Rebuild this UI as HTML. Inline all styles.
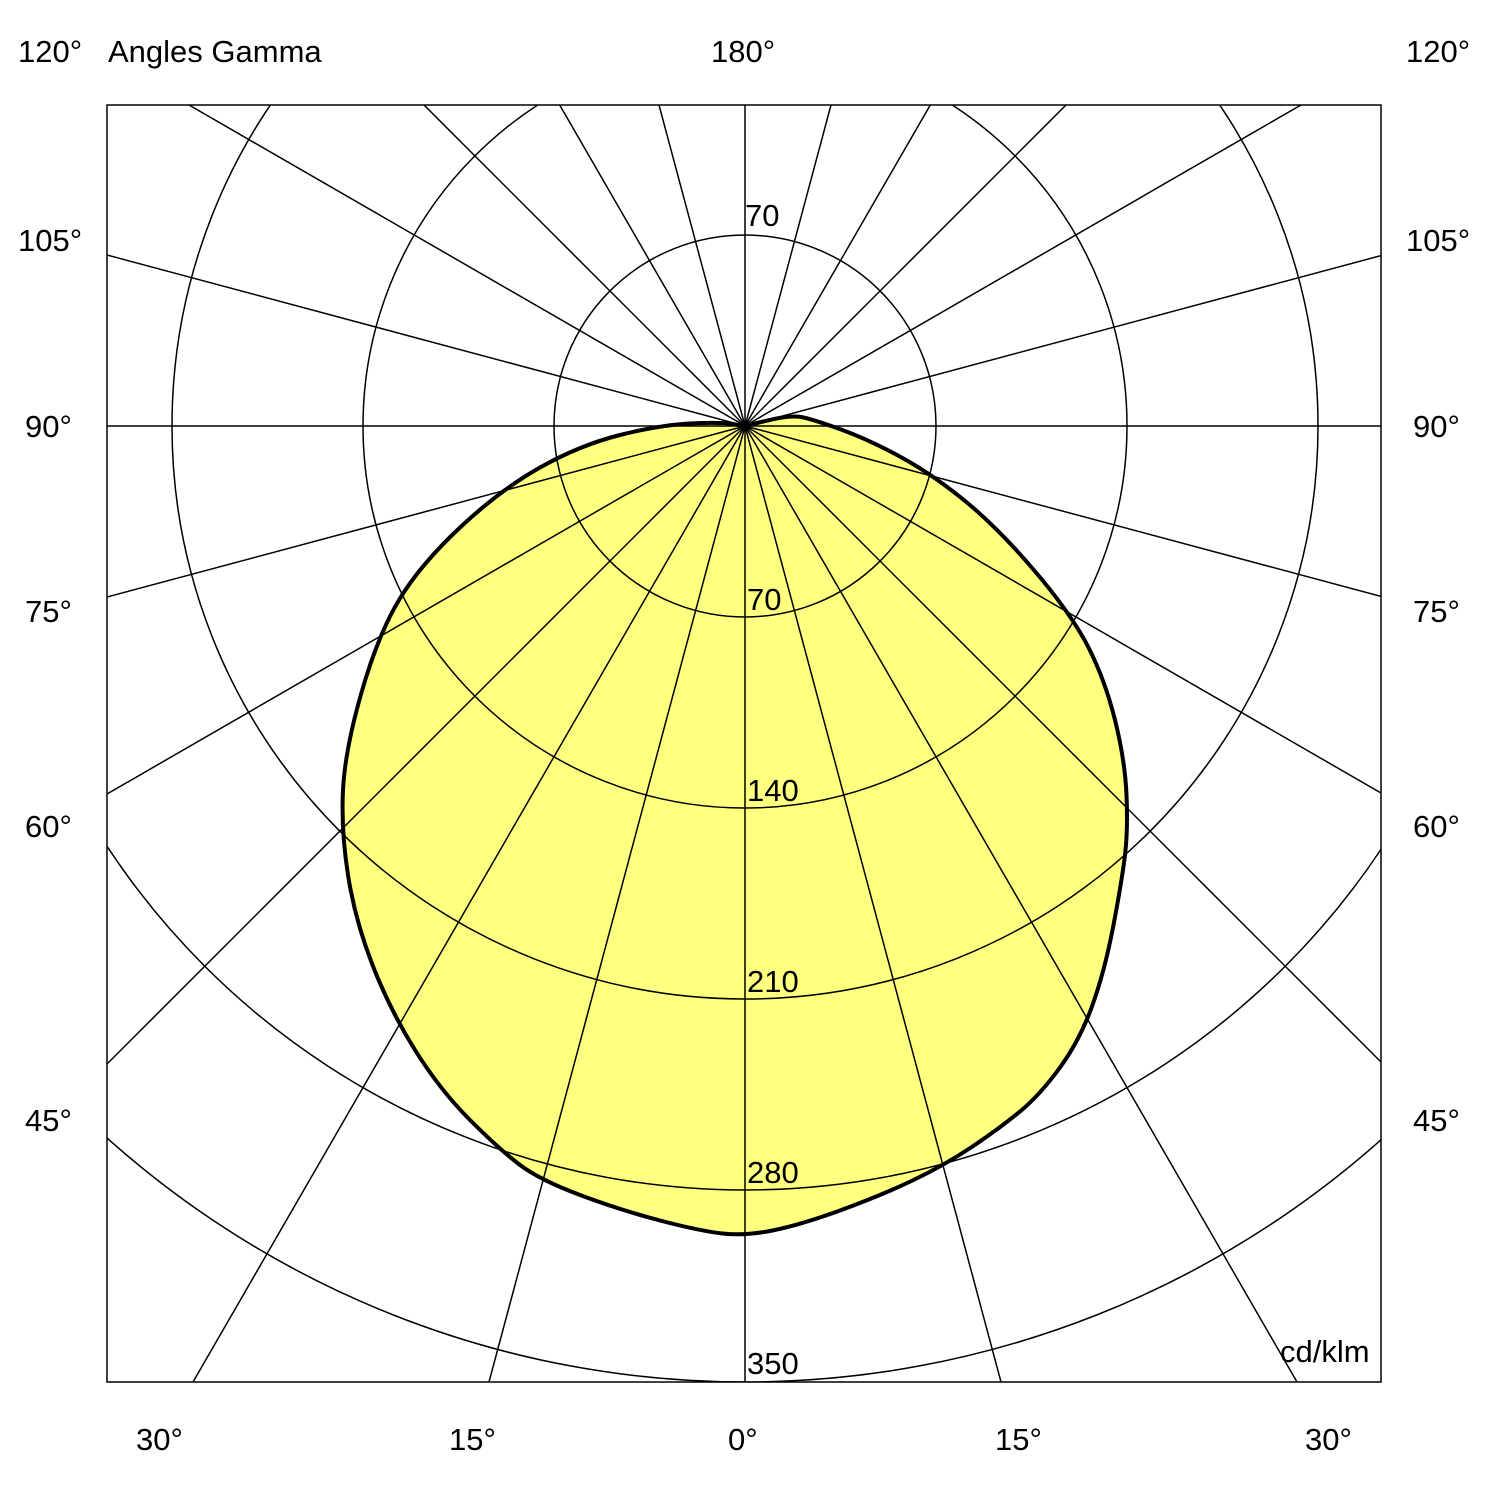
<!DOCTYPE html>
<html><head><meta charset="utf-8"><style>
html,body{margin:0;padding:0;background:#fff;width:1490px;height:1490px;overflow:hidden;}
svg{display:block;overflow:hidden;}
svg text{font-family:"Liberation Sans",Arial,sans-serif;font-size:31px;fill:#000;}
</style></head><body>
<svg width="1490" height="1490" viewBox="0 0 1490 1490" xmlns="http://www.w3.org/2000/svg">
<defs><clipPath id="c"><rect x="107" y="105" width="1274" height="1277"/></clipPath></defs>
<rect width="1490" height="1490" fill="#fff"/>
<g clip-path="url(#c)">
<path d="M745,426 L767.5,420.5 Q790,415 801,417 Q812,419 841,429.5 Q870,440 902.5,458 Q935,476 967.5,503 Q1000,530 1036,572.5 Q1072,615 1088.5,647.5 Q1105,680 1115,720 Q1125,760 1126.5,795 Q1128,830 1125,855 Q1122,880 1113.5,925 Q1105,970 1092.5,1005 Q1080,1040 1060,1067.5 Q1040,1095 1020,1111.5 Q1000,1128 972.5,1146.5 Q945,1165 912.5,1180.5 Q880,1196 840,1210.5 Q800,1225 772.5,1230.5 Q745,1236 722.5,1233.5 Q700,1231 660,1220.5 Q620,1210 580,1195 Q540,1180 520,1165 Q500,1150 470,1120 Q440,1090 415,1050 Q390,1010 372.5,965 Q355,920 348,875 Q341,830 343,790 Q345,750 361.5,692.5 Q378,635 399,600 Q420,565 460,527.5 Q500,490 540,467.5 Q580,445 620,435 Q660,425 690,423.5 Q720,422 732.5,424 L745,426 Z" fill="#ffff80" stroke="none"/>
<g fill="none" stroke="#000" stroke-width="1.5">
<circle cx="745" cy="426" r="191"/>
<circle cx="745" cy="426" r="382"/>
<circle cx="745" cy="426" r="573"/>
<circle cx="745" cy="426" r="764"/>
<circle cx="745" cy="426" r="956"/>
</g>
<g stroke="#000" stroke-width="1.5">
<line x1="745" y1="105" x2="745" y2="1382"/>
<line x1="659" y1="105" x2="1001" y2="1382"/>
<line x1="559.7" y1="105" x2="1297" y2="1382"/>
<line x1="424" y1="105" x2="1381" y2="1062"/>
<line x1="189" y1="105" x2="1381" y2="793"/>
<line x1="107" y1="255" x2="1381" y2="596.4"/>
<line x1="107" y1="426" x2="1381" y2="426"/>
<line x1="1381" y1="255.6" x2="107" y2="597"/>
<line x1="1301" y1="105" x2="107" y2="794"/>
<line x1="1066" y1="105" x2="107" y2="1064"/>
<line x1="930.3" y1="105" x2="193" y2="1382"/>
<line x1="831" y1="105" x2="489" y2="1382"/>
</g>
<path d="M745,426 L767.5,420.5 Q790,415 801,417 Q812,419 841,429.5 Q870,440 902.5,458 Q935,476 967.5,503 Q1000,530 1036,572.5 Q1072,615 1088.5,647.5 Q1105,680 1115,720 Q1125,760 1126.5,795 Q1128,830 1125,855 Q1122,880 1113.5,925 Q1105,970 1092.5,1005 Q1080,1040 1060,1067.5 Q1040,1095 1020,1111.5 Q1000,1128 972.5,1146.5 Q945,1165 912.5,1180.5 Q880,1196 840,1210.5 Q800,1225 772.5,1230.5 Q745,1236 722.5,1233.5 Q700,1231 660,1220.5 Q620,1210 580,1195 Q540,1180 520,1165 Q500,1150 470,1120 Q440,1090 415,1050 Q390,1010 372.5,965 Q355,920 348,875 Q341,830 343,790 Q345,750 361.5,692.5 Q378,635 399,600 Q420,565 460,527.5 Q500,490 540,467.5 Q580,445 620,435 Q660,425 690,423.5 Q720,422 732.5,424 L745,426 Z" fill="none" stroke="#000" stroke-width="4" stroke-linejoin="round"/>
</g>
<rect x="107" y="105" width="1274" height="1277" fill="none" stroke="#000" stroke-width="1.5"/>
<text x="745" y="226">70</text>
<text x="747" y="610">70</text>
<text x="747" y="801">140</text>
<text x="747" y="992">210</text>
<text x="747" y="1183">280</text>
<text x="747" y="1374">350</text>
<text x="1280" y="1362">cd/klm</text>
<text x="18" y="62">120°</text>
<text x="108" y="62">Angles Gamma</text>
<text x="711" y="62">180°</text>
<text x="1406" y="62">120°</text>
<text x="18" y="251">105°</text><text x="1406" y="251">105°</text>
<text x="25" y="437">90°</text><text x="1413" y="437">90°</text>
<text x="25" y="622">75°</text><text x="1413" y="622">75°</text>
<text x="25" y="837">60°</text><text x="1413" y="837">60°</text>
<text x="25" y="1131">45°</text><text x="1413" y="1131">45°</text>
<text x="136" y="1450">30°</text>
<text x="449" y="1450">15°</text>
<text x="728" y="1450">0°</text>
<text x="995" y="1450">15°</text>
<text x="1305" y="1450">30°</text>
</svg>
</body></html>
